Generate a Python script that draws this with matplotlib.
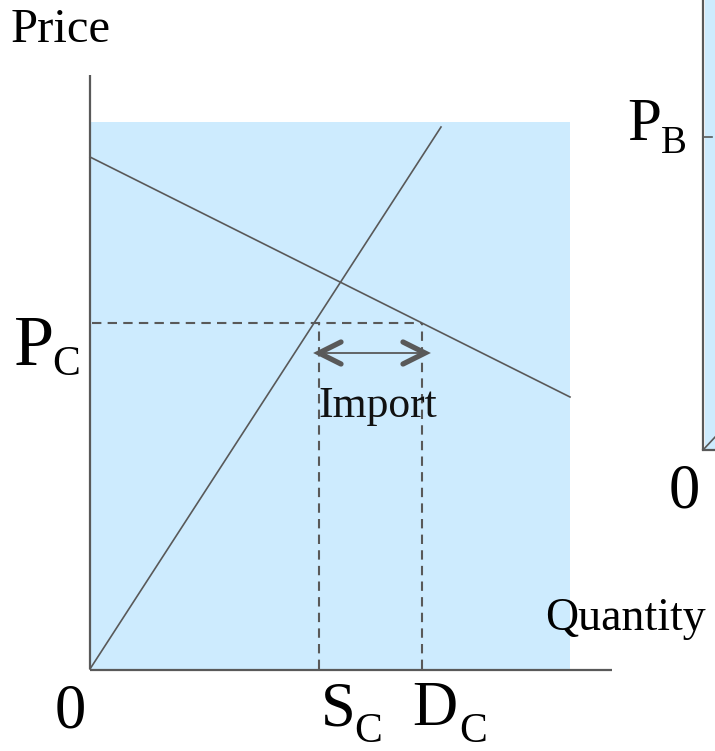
import matplotlib
matplotlib.use("Agg")
import matplotlib.pyplot as plt

# ---- data (diagram units: origin at the axes corner) ----
supply_x = [0, 351]
supply_y = [0, 542]
demand_x = [0, 480]
demand_y = [512, 272]
P_C = 346
S_C = 229
D_C = 332
area_w, area_h = 480, 547
x_axis_len, y_axis_len = 522, 594
# second (cropped) panel on the right
B_origin_x, B_origin_y = 613, 219
P_B = 532
B_supply_x = [613, 640]
B_supply_y = [219, 248]

LINE = "#595959"
BLUE = "#cdebfe"
SERIF = "Liberation Serif"

fig = plt.figure(figsize=(7.15, 7.51), dpi=100)
ax = fig.add_axes([0, 0, 1, 1])
ax.set_xlim(-90, 625)
ax.set_ylim(-82, 669)
ax.axis("off")

# shaded market area
ax.add_patch(plt.Rectangle((0, 0), area_w, area_h, facecolor=BLUE, edgecolor="none", zorder=0))
ax.add_patch(plt.Rectangle((B_origin_x + 2, B_origin_y), 40, 500, facecolor=BLUE, edgecolor="none", zorder=0))

# axes
ax.plot([0, 0], [0, y_axis_len], color=LINE, lw=1.6, solid_capstyle="butt")
ax.plot([0, x_axis_len], [-1, -1], color=LINE, lw=1.6, solid_capstyle="butt")

# supply & demand
ax.plot(supply_x, supply_y, color=LINE, lw=1.2)
ax.plot(demand_x, demand_y, color=LINE, lw=1.2)

# dashed guides
dash = dict(color=LINE, lw=1.5, linestyle=(0, (4.5, 3)))
ax.plot([2, D_C], [P_C, P_C], **dash)
ax.plot([S_C, S_C], [0, P_C], **dash)
ax.plot([D_C, D_C], [0, P_C], **dash)

# double arrow (import)
ay = P_C - 30
ax.plot([S_C, D_C + 3], [ay, ay], color=LINE, lw=1.3)
hl, hw = 22, 11
for x0, sgn in [(S_C, 1), (D_C + 3, -1)]:
    ax.plot([x0 + sgn * hl, x0, x0 + sgn * hl], [ay + hw, ay, ay - hw],
            color=LINE, lw=3.8, solid_capstyle="round", solid_joinstyle="miter")

ax.text((S_C + D_C) / 2 + 7, ay - 64, "Import", family=SERIF, fontsize=31.5,
        ha="center", va="baseline", color="#111111")

# labels
tk = dict(family=SERIF, color="#000000", ha="left", va="baseline")
ax.text(-79, 627, "Price", fontsize=35, **tk)
ax.text(455, 39, "Quantity", fontsize=33, **tk)
ax.text(-76, 304, "P", fontsize=52, **tk)
ax.text(-38, 294, "C", fontsize=30, **tk)
ax.text(-35, -58, "0", fontsize=45, **tk)
ax.text(231, -56, "S", fontsize=45, **tk)
ax.text(264, -73, "C", fontsize=30, **tk)
ax.text(322, -56, "D", fontsize=45, **tk)
ax.text(369, -73, "C", fontsize=30, **tk)

# right panel fragment
ax.plot([B_origin_x, B_origin_x], [B_origin_y, 700], color=LINE, lw=1.6, solid_capstyle="butt")
ax.plot([B_origin_x, 640], [B_origin_y, B_origin_y], color=LINE, lw=1.6)
ax.plot(B_supply_x, B_supply_y, color=LINE, lw=1.2)
ax.plot([B_origin_x, B_origin_x + 9], [P_B, P_B], color=LINE, lw=1.2)
ax.text(537, 529, "P", fontsize=44, **tk)
ax.text(571, 516, "B", fontsize=28, **tk)
ax.text(579, 161, "0", fontsize=45, **tk)

fig.savefig("out.png", dpi=100)
